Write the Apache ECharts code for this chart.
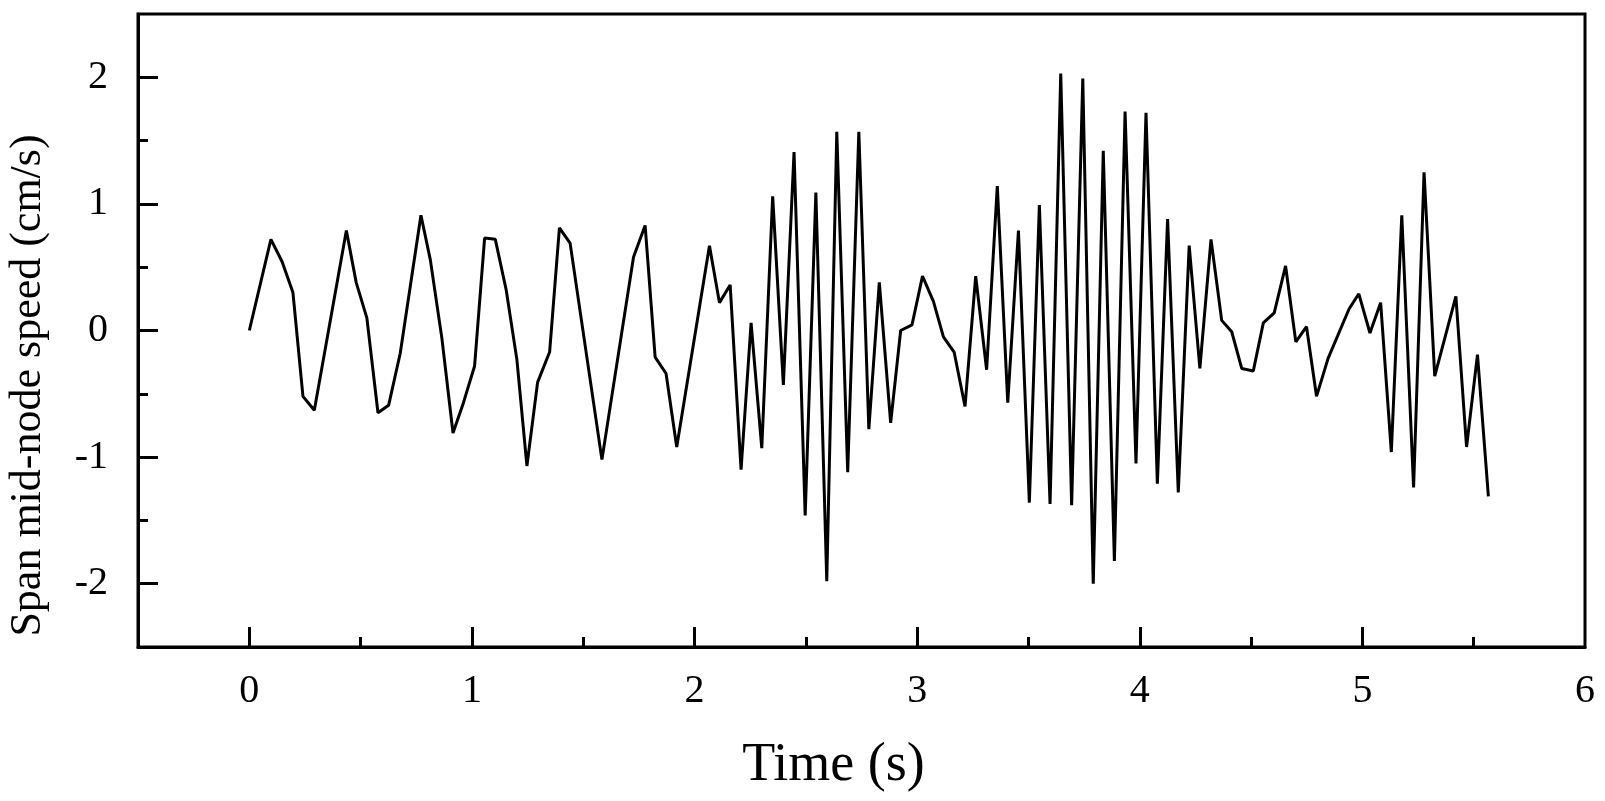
<!DOCTYPE html>
<html>
<head>
<meta charset="utf-8">
<script src="https://cdn.jsdelivr.net/npm/echarts@6/dist/echarts.min.js"></script>
<style>html,body{margin:0;padding:0;background:#fff}#main{width:1605px;height:801px}</style>
</head>
<body>
<div id="main"></div>
<script>
var chart = echarts.init(document.getElementById('main'));

// time (s) and speed (cm/s)
var times = [0, 0.097, 0.147, 0.196, 0.241, 0.292, 0.436, 0.48, 0.528, 0.578, 0.626, 0.678, 0.771, 0.813, 0.865, 0.915, 0.962, 1.012, 1.057, 1.105, 1.154, 1.202, 1.247, 1.295, 1.349, 1.393, 1.441, 1.584, 1.726, 1.778, 1.823, 1.872, 1.92, 2.067, 2.112, 2.16, 2.209, 2.254, 2.302, 2.351, 2.399, 2.447, 2.497, 2.545, 2.594, 2.639, 2.688, 2.738, 2.783, 2.83, 2.881, 2.926, 2.977, 3.024, 3.073, 3.118, 3.166, 3.215, 3.263, 3.312, 3.36, 3.407, 3.455, 3.504, 3.549, 3.597, 3.645, 3.694, 3.744, 3.791, 3.836, 3.886, 3.934, 3.983, 4.028, 4.079, 4.125, 4.173, 4.222, 4.27, 4.32, 4.368, 4.413, 4.458, 4.51, 4.555, 4.604, 4.655, 4.701, 4.749, 4.794, 4.846, 4.94, 4.984, 5.034, 5.082, 5.13, 5.177, 5.23, 5.277, 5.325, 5.42, 5.468, 5.517, 5.566];
var speed = [0, 0.72, 0.545, 0.30, -0.52, -0.63, 0.79, 0.38, 0.10, -0.65, -0.59, -0.18, 0.91, 0.56, -0.06, -0.81, -0.57, -0.28, 0.73, 0.72, 0.32, -0.23, -1.07, -0.41, -0.17, 0.81, 0.69, -1.02, 0.58, 0.83, -0.21, -0.34, -0.92, 0.67, 0.22, 0.36, -1.10, 0.06, -0.93, 1.06, -0.43, 1.41, -1.46, 1.09, -1.98, 1.57, -1.12, 1.57, -0.78, 0.38, -0.73, 0.00, 0.045, 0.43, 0.23, -0.05, -0.17, -0.60, 0.43, -0.31, 1.14, -0.57, 0.79, -1.36, 0.99, -1.37, 2.03, -1.38, 1.99, -2.0, 1.42, -1.82, 1.73, -1.05, 1.72, -1.21, 0.88, -1.28, 0.67, -0.30, 0.72, 0.08, -0.01, -0.30, -0.32, 0.06, 0.14, 0.51, -0.09, 0.03, -0.52, -0.22, 0.17, 0.29, -0.02, 0.22, -0.96, 0.91, -1.24, 1.25, -0.36, 0.27, -0.92, -0.19, -1.31];

var xMajor = [0, 1, 2, 3, 4, 5, 6];
var xMinor = [0.5, 1.5, 2.5, 3.5, 4.5, 5.5];
var yMajor = [-2, -1, 0, 1, 2];
var yMinor = [-1.5, -0.5, 0.5, 1.5];

var points = times.map(function (t, i) { return [t, speed[i]]; });

var font = 'Liberation Serif';
var black = { color: '#000', width: 3 };

function tickAxis(base, values, len) {
    return Object.assign({
        type: 'value',
        offset: 0,
        axisLine: { show: false, onZero: false },
        axisLabel: { show: false },
        splitLine: { show: false },
        axisTick: { show: true, inside: true, length: len, lineStyle: black, customValues: values }
    }, base);
}

var option = {
    animation: false,
    backgroundColor: '#fff',
    grid: {
        left: 138, right: 20, top: 14, bottom: 154,
        containLabel: false,
        outerBoundsMode: 'none',
        show: true, borderColor: '#000', borderWidth: 3
    },
    xAxis: [{
        type: 'value',
        min: -0.5, max: 6,
        name: 'Time (s)',
        nameLocation: 'middle',
        nameGap: 92,
        nameTextStyle: { fontFamily: font, fontSize: 54, color: '#000', padding: [0, 56, 0, 0] },
        axisLine: { show: true, onZero: false, lineStyle: black },
        axisTick: { show: false },
        axisLabel: { fontFamily: font, fontSize: 40, color: '#000', margin: 24, customValues: xMajor },
        splitLine: { show: false }
    },
    tickAxis({ min: -0.5, max: 6, position: 'bottom' }, xMajor.slice(0, 6), 20),
    tickAxis({ min: -0.5, max: 6, position: 'bottom' }, xMinor, 10)],
    yAxis: [{
        type: 'value',
        min: -2.5, max: 2.5,
        name: 'Span mid-node speed (cm/s)',
        nameLocation: 'middle',
        nameGap: 88,
        nameTextStyle: { fontFamily: font, fontSize: 44, color: '#000', padding: [0, 110, 0, 0] },
        axisLine: { show: true, onZero: false, lineStyle: black },
        axisTick: { show: false },
        axisLabel: { fontFamily: font, fontSize: 40, color: '#000', margin: 30, customValues: yMajor },
        splitLine: { show: false }
    },
    tickAxis({ min: -2.5, max: 2.5, position: 'left' }, yMajor, 20),
    tickAxis({ min: -2.5, max: 2.5, position: 'left' }, yMinor, 10)],
    series: [{
        type: 'line',
        data: points,
        symbol: 'none',
        lineStyle: { color: '#000', width: 3 }
    }]
};

chart.setOption(option);
</script>
</body>
</html>
